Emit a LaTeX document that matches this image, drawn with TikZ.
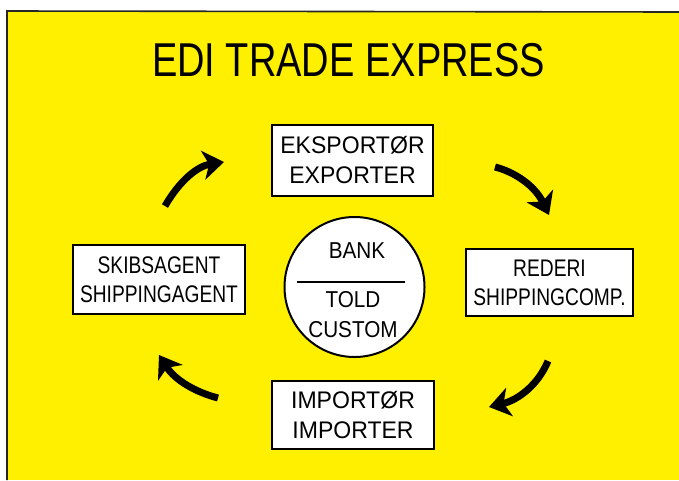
\documentclass[tikz,border=0pt]{standalone}
\usepackage{fontspec}
\newfontfamily\hand[FakeStretch=0.8]{Liberation Sans}
\newfontfamily\handw[FakeStretch=0.96]{Liberation Sans}
\newfontfamily\handc[FakeStretch=0.9]{Liberation Sans}
\usetikzlibrary{arrows.meta}
\definecolor{bgyellow}{RGB}{255,240,0}
\tikzset{
  box/.style={draw=black,line width=2.4pt,fill=white,inner sep=0pt,align=center,
    font=\hand\fontsize{24}{29}\selectfont},
  wide/.style={font=\handw\fontsize{24}{30}\selectfont},
  ctext/.style={inner sep=0pt,align=center,font=\handc\fontsize{23}{30}\selectfont},
  flow/.style={line width=7pt,-{Stealth[length=21pt,width=29pt,inset=6pt]}},
}
\begin{document}
\begin{tikzpicture}[x=1pt,y=-1pt]
\useasboundingbox (0,0) rectangle (679,480);
\fill[white] (0,0) rectangle (679,480);
\fill[bgyellow] (7,11) rectangle (679,480);
\draw[line width=1.6pt,black!85] (7,480) -- (7,11) -- (679,12);

\node[inner sep=0pt,font=\hand\fontsize{47.5}{50}\selectfont] (title) at (348.5,60) {EDI TRADE EXPRESS};

\node[box,wide,minimum width=161pt,minimum height=71pt] (exp) at (352.5,160.5) {EKSPORTØR\\EXPORTER};
\node[box,minimum width=172pt,minimum height=69pt] (skib) at (159,279.5) {SKIBSAGENT\\SHIPPINGAGENT};
\node[box,minimum width=167pt,minimum height=67pt] (red) at (549.5,282.5) {REDERI\\SHIPPINGCOMP.};
\node[box,wide,minimum width=162pt,minimum height=68pt] (imp) at (353,415) {IMPORTØR\\IMPORTER};

\node[circle,draw=black,line width=2pt,fill=white,minimum size=140pt,inner sep=0pt] (cb) at (354.5,287) {};
\node[ctext] (bank) at (357,251) {BANK};
\node[ctext] (told) at (353,315) {TOLD\\CUSTOM};
\coordinate (dl) at (297,282);
\coordinate (dr) at (405,282);
\draw[line width=2pt] (dl) -- (dr);

\coordinate (a1s) at (165,206);
\coordinate (a1e) at (224,162);
\coordinate (a2s) at (495,167);
\coordinate (a2e) at (549,215);
\coordinate (a3s) at (548,361);
\coordinate (a3e) at (489,407);
\coordinate (a4s) at (218,398);
\coordinate (a4e) at (159,355);
\draw[flow] (a1s) .. controls (180,180) and (198,166) .. (a1e);
\draw[flow] (a2s) .. controls (515,172) and (535,186) .. (a2e);
\draw[flow] (a3s) .. controls (538,385) and (518,400) .. (a3e);
\draw[flow] (a4s) .. controls (195,392) and (175,380) .. (a4e);
\end{tikzpicture}
\end{document}
